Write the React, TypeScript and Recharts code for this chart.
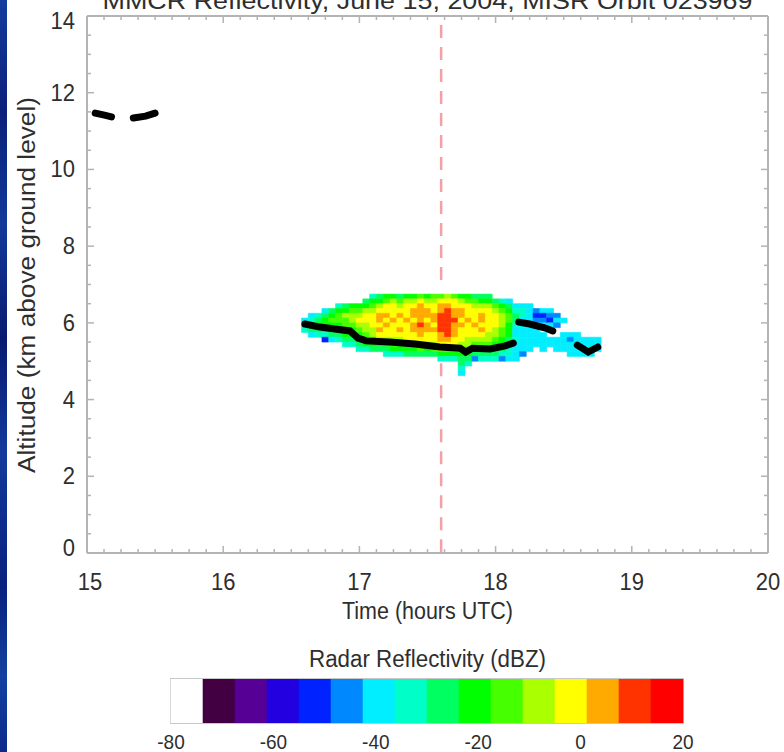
import React from 'react';
import { ComposedChart, XAxis, YAxis, Line, Bar, Cell, ReferenceArea, ReferenceLine } from 'recharts';

const FONT = '"Liberation Sans", Arial, sans-serif';
const INK = '#2e2e2e';
const FRAME = '#b4b4b4';

const TITLE = 'MMCR Reflectivity, June 15, 2004, MISR Orbit 023969';
const X_LABELS = [15, 16, 17, 18, 19, 20];
const Y_LABELS = [0, 2, 4, 6, 8, 10, 12, 14];
const X_MINOR = 0.125;
const Y_MINOR = 0.5;
const MARKER_TIME = 17.6;

// reflectivity field: one string per time column (top row first), hex digit = colour bin
const GRID_T0 = 16.575;
const GRID_DT = 0.05;
const GRID_Z0 = 6.875;
const GRID_DZ = 0.125;
const REFL_COLUMNS = [
  '......677.........',
  '.....67886........',
  '.....78987........',
  '....6899874.......',
  '....89a9986.......',
  '...79aa9987.......',
  '...89baa9987......',
  '...9abba9987......',
  '...9abcba9987.....',
  '..89bccbba997.....',
  '.79abcccbb998.....',
  '.89bcddcdcb98.....',
  '.9accdcdccb987....',
  '.9bcccdcccba97....',
  '.8abcdccdcb997....',
  '.9bcccdcccca98....',
  '.9bcddcddccb98....',
  '.acddddeddcba8....',
  '.9bcddcddccb98....',
  '.abccddcdccba8....',
  '.acddeeeeddcb97...',
  '.bcdeeeeeedcb97...',
  '.accddedddccb97...',
  '.9bcddcdcccba98876',
  '.9acccdcccbba987..',
  '.8abcccdccba985...',
  '.89bcddcdcba987...',
  '.89bcccccbba987...',
  '..8abcccbba9987...',
  '..79abbbaa99875...',
  '..689aa99988776...',
  '...678876676666...',
  '...67766666665....',
  '...6666666666.....',
  '....54566666......',
  '....6456.6666.....',
  '....6546..66......',
  '.....565..666.....',
  '......6..6666.....',
  '.........65666....',
  '.........66666....',
  '..........6666....',
  '..........6676....',
  '..........666.....',
];

const DBZ_COLORS = [
  '#ffffff', '#420042', '#560095', '#2200e0', '#0022ff', '#0088ff', '#00eeff', '#00ffc8',
  '#00ff60', '#00ff00', '#46ff00', '#aaff00', '#ffff00', '#ffaa00', '#ff3300', '#ff0000',
];
const DBZ_EDGES = [
  -80, -73.75, -67.5, -61.25, -55, -48.75, -42.5, -36.25, -30,
  -23.75, -17.5, -11.25, -5, 1.25, 7.5, 13.75, 20,
];
const DBZ_TICKS = [-80, -60, -40, -20, 0, 20];

// lidar cloud base (hours UTC, km)
const BASE_MAIN: [number, number][] = [
  [16.6, 5.97], [16.71, 5.89], [16.82, 5.84], [16.93, 5.79], [16.99, 5.6],
  [17.05, 5.53], [17.22, 5.5], [17.41, 5.45], [17.59, 5.37], [17.74, 5.34],
  [17.78, 5.24], [17.83, 5.34], [17.96, 5.32], [18.07, 5.4], [18.13, 5.47],
];
const BASE_RAISED: [number, number][] = [[18.17, 6.02], [18.25, 5.97], [18.36, 5.87], [18.42, 5.79]];
const BASE_TAIL: [number, number][] = [[18.6, 5.42], [18.68, 5.24], [18.75, 5.37]];
const CIRRUS_A: [number, number][] = [[15.06, 11.47], [15.12, 11.42], [15.18, 11.37]];
const CIRRUS_B: [number, number][] = [[15.34, 11.34], [15.43, 11.39], [15.5, 11.47]];

const cells: { key: string; x1: number; x2: number; y1: number; y2: number; fill: string }[] = [];
REFL_COLUMNS.forEach((col, i) => {
  col.split('').forEach((ch, j) => {
    if (ch === '.') return;
    cells.push({
      key: `${i}-${j}`,
      x1: GRID_T0 + i * GRID_DT,
      x2: GRID_T0 + (i + 1) * GRID_DT,
      y1: GRID_Z0 - (j + 1) * GRID_DZ,
      y2: GRID_Z0 - j * GRID_DZ,
      fill: DBZ_COLORS[parseInt(ch, 16)],
    });
  });
});

const baseSegments = [BASE_MAIN, BASE_RAISED, BASE_TAIL, CIRRUS_A, CIRRUS_B].map((seg) =>
  seg.map(([t, a]) => ({ t, a }))
);

const dbzBins = DBZ_COLORS.map((color, i) => ({
  lo: DBZ_EDGES[i],
  mid: (DBZ_EDGES[i] + DBZ_EDGES[i + 1]) / 2,
  span: 1,
  color,
}));

const xTicks = Array.from({ length: 41 }, (_, i) => 15 + i * X_MINOR);
const yTicks = Array.from({ length: 29 }, (_, i) => i * Y_MINOR);

const numStyle = { fontSize: 22, fill: INK, fontFamily: FONT };

function BottomTick({ x, y, payload }: any) {
  const major = X_LABELS.includes(payload.value);
  const dx = payload.value === 15 ? 3 : 0;
  return (
    <g>
      <line x1={x} x2={x} y1={y} y2={y - (major ? 7 : 4)} stroke={FRAME} strokeWidth={1.5} />
      {major && (
        <text transform={`translate(${x + dx},${y + 37}) scale(1,1.1)`} textAnchor="middle" {...numStyle}>
          {payload.value}
        </text>
      )}
    </g>
  );
}

function TopTick({ x, y, payload }: any) {
  const major = X_LABELS.includes(payload.value);
  return <line x1={x} x2={x} y1={y} y2={y + (major ? 7 : 4)} stroke={FRAME} strokeWidth={1.5} />;
}

function LeftTick({ x, y, payload }: any) {
  const major = Y_LABELS.includes(payload.value);
  const dy = payload.value === 14 ? 5 : payload.value === 0 ? -5 : 0;
  return (
    <g>
      <line x1={x} x2={x + (major ? 7 : 4)} y1={y} y2={y} stroke={FRAME} strokeWidth={1.5} />
      {major && (
        <text transform={`translate(${x - 12},${y + 8 + dy}) scale(1,1.1)`} textAnchor="end" {...numStyle}>
          {payload.value}
        </text>
      )}
    </g>
  );
}

function RightTick({ x, y, payload }: any) {
  const major = Y_LABELS.includes(payload.value);
  return <line x1={x} x2={x - (major ? 7 : 4)} y1={y} y2={y} stroke={FRAME} strokeWidth={1.5} />;
}

function ColorbarTick({ x, y, payload }: any) {
  return (
    <text transform={`translate(${x},${y + 26}) scale(1,1.05)`} textAnchor="middle" {...numStyle} fontSize={19}>
      {payload.value}
    </text>
  );
}

const axisLine = { stroke: FRAME, strokeWidth: 2 };

export default function App() {
  return (
    <div style={{ position: 'absolute', left: 0, top: 0, width: 784, height: 752, background: '#fff', overflow: 'hidden' }}>
      <svg width={7} height={752} style={{ position: 'absolute', left: 0, top: 0 }}>
        <defs>
          <linearGradient id="edge" x1="0" y1="0" x2="0" y2="1">
            <stop offset="0" stopColor="#143d9e" />
            <stop offset="0.15" stopColor="#0a1f7a" />
            <stop offset="0.3" stopColor="#13399a" />
            <stop offset="0.45" stopColor="#071a70" />
            <stop offset="0.6" stopColor="#123a9c" />
            <stop offset="0.78" stopColor="#08217e" />
            <stop offset="0.9" stopColor="#1440a0" />
            <stop offset="1" stopColor="#0b2a8c" />
          </linearGradient>
        </defs>
        <rect x={0} y={0} width={7} height={752} fill="url(#edge)" />
      </svg>

      <div style={{ position: 'absolute', left: 0, top: 0 }}>
        <ComposedChart width={784} height={630} margin={{ top: 15, right: 15, bottom: 76, left: 86 }}>
          <XAxis
            type="number"
            dataKey="t"
            domain={[15, 20]}
            ticks={xTicks}
            interval={0}
            height={1}
            tickSize={0}
            tickMargin={0}
            tickLine={false}
            axisLine={axisLine}
            tick={(p: any) => <BottomTick {...p} />}
            allowDataOverflow
          />
          <XAxis
            xAxisId="top"
            orientation="top"
            type="number"
            dataKey="t"
            domain={[15, 20]}
            ticks={xTicks}
            interval={0}
            height={1}
            tickSize={0}
            tickMargin={0}
            tickLine={false}
            axisLine={axisLine}
            tick={(p: any) => <TopTick {...p} />}
            allowDataOverflow
          />
          <YAxis
            type="number"
            domain={[0, 14]}
            ticks={yTicks}
            interval={0}
            width={1}
            tickSize={0}
            tickMargin={0}
            tickLine={false}
            axisLine={axisLine}
            tick={(p: any) => <LeftTick {...p} />}
            allowDataOverflow
          />
          <YAxis
            yAxisId="right"
            orientation="right"
            type="number"
            domain={[0, 14]}
            ticks={yTicks}
            interval={0}
            width={1}
            tickSize={0}
            tickMargin={0}
            tickLine={false}
            axisLine={axisLine}
            tick={(p: any) => <RightTick {...p} />}
            allowDataOverflow
          />

          <ReferenceLine
            segment={[{ x: MARKER_TIME, y: 14 }, { x: MARKER_TIME, y: 6.9 }]}
            stroke="#f5a0a6"
            strokeWidth={2.5}
            strokeDasharray="0 9 13 0"
          />
          <ReferenceLine
            segment={[{ x: MARKER_TIME, y: 4.95 }, { x: MARKER_TIME, y: 0 }]}
            stroke="#f5a0a6"
            strokeWidth={2.5}
            strokeDasharray="13 9"
          />

          {cells.map((c) => (
            <ReferenceArea
              key={c.key}
              x1={c.x1}
              x2={c.x2}
              y1={c.y1}
              y2={c.y2}
              fill={c.fill}
              fillOpacity={1}
              stroke={c.fill}
              strokeWidth={0.6}
            />
          ))}

          {baseSegments.map((seg, i) => (
            <Line
              key={i}
              data={seg}
              dataKey="a"
              type="linear"
              stroke="#000"
              strokeWidth={7}
              strokeLinecap="round"
              dot={false}
              activeDot={false}
              isAnimationActive={false}
            />
          ))}

          <text x={427.5} y={9} textAnchor="middle" fontSize={24} fill={INK} fontFamily={FONT} textLength={650} lengthAdjust="spacingAndGlyphs">
            {TITLE}
          </text>
          <text transform="translate(427.5,619) scale(1,1.1)" textAnchor="middle" fontSize={22} fill={INK} fontFamily={FONT} textLength={171} lengthAdjust="spacingAndGlyphs">
            Time (hours UTC)
          </text>
          <text transform="translate(35,285) rotate(-90)" textAnchor="middle" fontSize={23} fill={INK} fontFamily={FONT} textLength={376} lengthAdjust="spacingAndGlyphs">
            Altitude (km above ground level)
          </text>
        </ComposedChart>
      </div>

      <div style={{ position: 'absolute', left: 0, top: 630 }}>
        <ComposedChart
          width={784}
          height={122}
          data={dbzBins}
          barCategoryGap={0}
          barGap={0}
          margin={{ top: 49, right: 101, bottom: 28, left: 171 }}
        >
          <XAxis
            xAxisId="dbz"
            type="number"
            dataKey="mid"
            domain={[-80, 20]}
            ticks={DBZ_TICKS}
            interval={0}
            height={1}
            tickSize={0}
            tickMargin={0}
            tickLine={false}
            axisLine={false}
            tick={(p: any) => <ColorbarTick {...p} />}
            allowDataOverflow
          />
          <XAxis xAxisId="bins" dataKey="lo" type="category" height={0} hide />
          <YAxis type="number" domain={[0, 1]} hide allowDataOverflow />
          <Bar xAxisId="bins" dataKey="span" isAnimationActive={false}>
            {dbzBins.map((b, i) => (
              <Cell key={i} fill={b.color} stroke={b.color} strokeWidth={0.6} />
            ))}
          </Bar>
          <ReferenceArea xAxisId="dbz" x1={-80} x2={20} y1={0} y2={1} fill="none" stroke="#c8c8c8" strokeWidth={2} />
          <text transform="translate(427.5,37) scale(1,1.1)" textAnchor="middle" fontSize={22} fill={INK} fontFamily={FONT} textLength={237} lengthAdjust="spacingAndGlyphs">
            Radar Reflectivity (dBZ)
          </text>
        </ComposedChart>
      </div>
    </div>
  );
}
